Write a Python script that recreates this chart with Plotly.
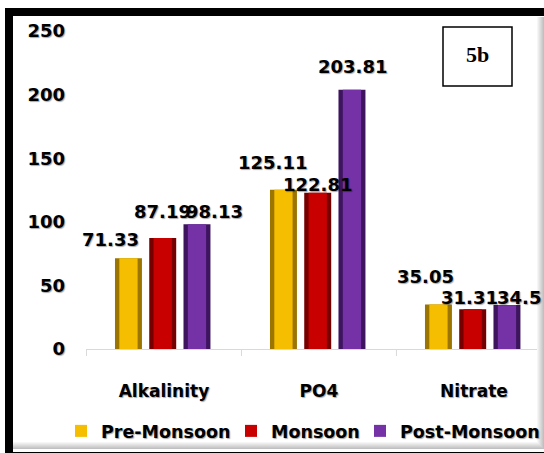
import plotly.graph_objects as go

# ---- data ----
categories = ["Alkalinity", "PO4", "Nitrate"]
pre_monsoon = [71.33, 125.11, 35.05]
monsoon = [87.19, 122.81, 31.31]
post_monsoon = [98.13, 203.81, 34.5]
series_names = ["Pre-Monsoon", "Monsoon", "Post-Monsoon"]
y_ticks = [0, 50, 100, 150, 200, 250]

# ---- styling ----
W, H = 544, 453
L, R, T, B = 86, 544, 31, 349          # plot area in pixels
FONT = "DejaVu Sans"
SHADOW = "1px 1px 1px rgba(0,0,0,0.35)"

face = ["#F5BE00", "#C80000", "#7432A6"]     # bar face colours
edge = ["#9C7400", "#760000", "#3E145E"]     # bevel / edge colours
centers = [-0.229, -0.008, 0.213]            # bar centre offset from category (units)
bar_w = 0.174
inner_w = 0.118

# label nudges in pixels (dx, dy above bar top) for each series / category
label_shift = [
    [(-17.5, 18), (-10.5, 26), (-13, 27)],
    [(-0.5, 26), (0, 7), (-3.5, 11)],
    [(18, 12), (0.5, 22), (12.5, 7)],
]
# legend entry anchors (pixel x) – one legend box per series
legend_x = [61, 231, 360]
legend_ids = ["legend", "legend2", "legend3"]


def px_x(p):
    return (p - L) / (R - L)


def px_y(p):
    return (B - p) / (B - T)


values = [pre_monsoon, monsoon, post_monsoon]
idx = list(range(len(categories)))

fig = go.Figure()

# dark bevel underlay
for s, vals in enumerate(values):
    fig.add_trace(go.Bar(
        x=idx, y=vals, width=bar_w, offset=centers[s] - bar_w / 2,
        marker=dict(color=edge[s], line=dict(width=0)),
        showlegend=False, hoverinfo="skip",
    ))

# bar faces (legend entries)
for s, vals in enumerate(values):
    fig.add_trace(go.Bar(
        x=idx, y=vals, width=inner_w, offset=centers[s] - inner_w / 2,
        name=series_names[s], legend=legend_ids[s],
        marker=dict(color=face[s], line=dict(width=0)),
    ))

# value labels
for s, vals in enumerate(values):
    for i, v in enumerate(vals):
        dx, dy = label_shift[s][i]
        fig.add_annotation(
            x=i + centers[s], y=v, xref="x", yref="y",
            text=f"{v:g}", showarrow=False,
            xanchor="center", yanchor="middle",
            xshift=dx, yshift=dy + 1,
            font=dict(family=FONT, size=18, color="black", weight="bold", shadow=SHADOW),
        )

# outer frame
fig.add_shape(type="rect", xref="paper", yref="paper",
              x0=px_x(9), x1=px_x(570), y0=px_y(12), y1=px_y(456),
              line=dict(color="black", width=8), layer="above")
# soft inner shadow along right and bottom edges
for k in range(7):
    g = 255 - int((k + 1) * 9)
    col = f"rgb({g},{g},{g})"
    fig.add_shape(type="rect", xref="paper", yref="paper",
                  x0=px_x(537 + k), x1=px_x(538 + k), y0=px_y(17), y1=px_y(449),
                  line=dict(width=0), fillcolor=col, layer="above")
    fig.add_shape(type="rect", xref="paper", yref="paper",
                  x0=px_x(13), x1=px_x(537 + k), y0=px_y(442 + k), y1=px_y(443 + k),
                  line=dict(width=0), fillcolor=col, layer="above")

# panel tag
fig.add_shape(type="rect", xref="paper", yref="paper",
              x0=px_x(443), x1=px_x(512), y0=px_y(27), y1=px_y(86),
              line=dict(color="black", width=1.5), fillcolor="white")
fig.add_annotation(x=px_x(477.5), y=px_y(55), xref="paper", yref="paper",
                   text="5b", showarrow=False, xanchor="center", yanchor="middle",
                   font=dict(family="Liberation Serif", size=22, color="black", weight="bold"))

legend_style = dict(
    orientation="h", y=px_y(431), xanchor="left", yanchor="middle",
    font=dict(family=FONT, size=17.5, color="black", weight="bold", shadow=SHADOW),
    bgcolor="rgba(0,0,0,0)", borderwidth=0, itemwidth=30,
)

fig.update_layout(
    width=W, height=H,
    margin=dict(l=L, r=W - R, t=T, b=H - B, pad=0, autoexpand=False),
    paper_bgcolor="white", plot_bgcolor="white",
    barmode="overlay",
    showlegend=True,
    legend=dict(x=px_x(legend_x[0]), **legend_style),
    legend2=dict(x=px_x(legend_x[1]), **legend_style),
    legend3=dict(x=px_x(legend_x[2]), **legend_style),
    xaxis=dict(
        range=[-0.503, 2.452],
        tickmode="array", tickvals=idx, ticktext=categories,
        showline=True, linecolor="#D9D9D9", linewidth=1,
        ticks="", showgrid=False, zeroline=False,
        ticklabelstandoff=27,
        tickfont=dict(family=FONT, size=17, color="black", weight="bold", shadow=SHADOW),
    ),
    yaxis=dict(
        range=[0, 250], tickvals=y_ticks,
        showline=False, showgrid=False, zeroline=False, ticks="",
        ticklabelstandoff=20,
        tickfont=dict(family=FONT, size=18, color="black", weight="bold", shadow=SHADOW),
    ),
)

# category boundary ticks
for b in [-0.5, 0.5, 1.5]:
    fig.add_shape(type="line", xref="x", yref="paper", x0=b, x1=b,
                  y0=0, y1=px_y(356), line=dict(color="#D9D9D9", width=1))

fig.write_html("out.html")
